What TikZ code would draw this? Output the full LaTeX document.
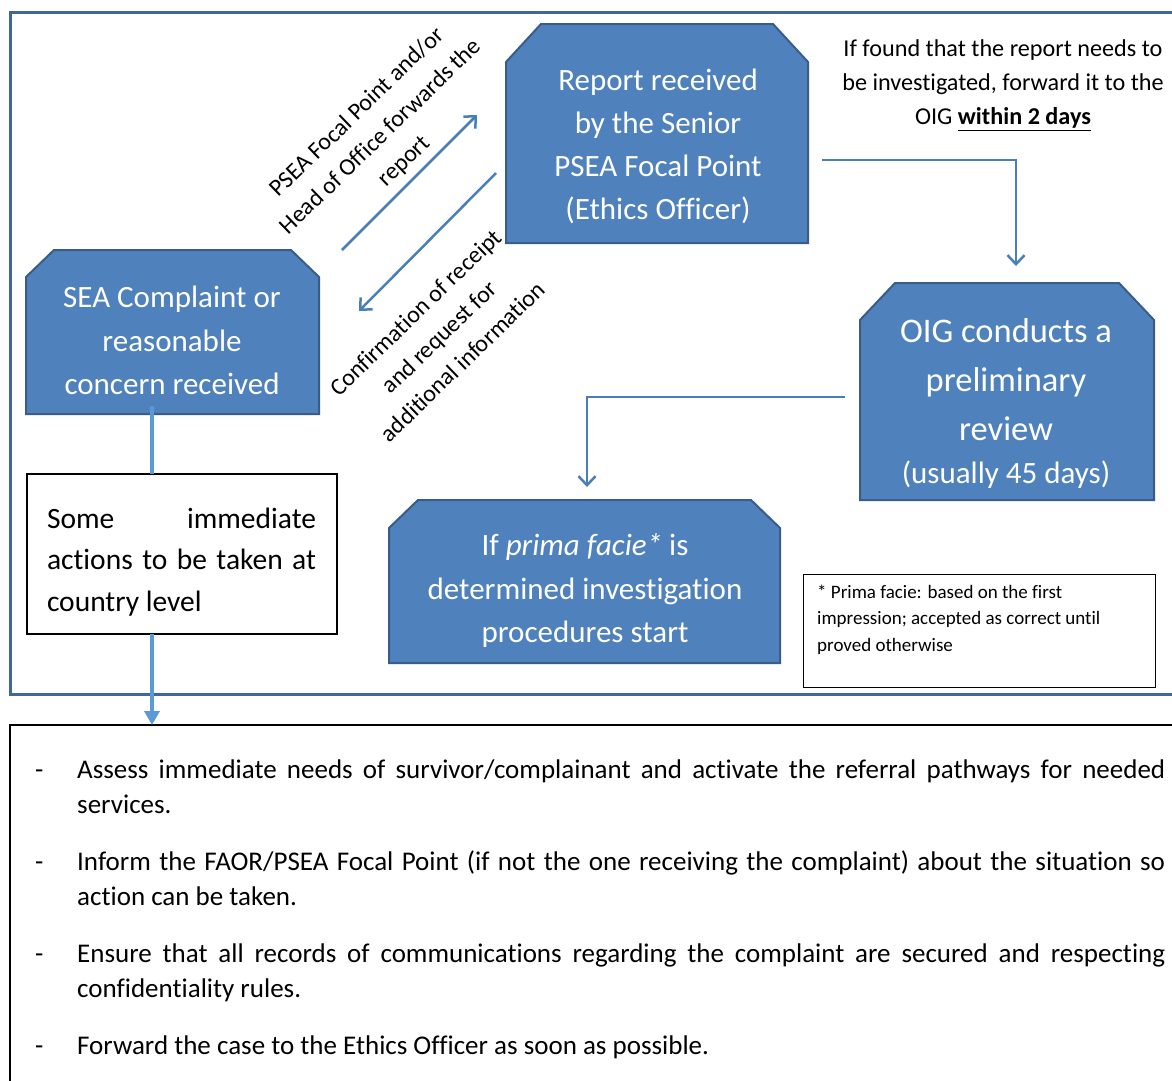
\documentclass[tikz,border=0pt]{standalone}
\usepackage{fontspec}
\setmainfont{Carlito}[Ligatures=CommonOff]
\usetikzlibrary{arrows.meta,calc}

\definecolor{boxfill}{HTML}{4F81BD}
\definecolor{boxline}{HTML}{385D8A}
\definecolor{frameblue}{HTML}{41679A}
\definecolor{arrblue}{HTML}{4A7EBB}
\definecolor{lightblue}{HTML}{5B9BD5}

\newcommand\fs[2]{\fontsize{#1}{#2}\selectfont}
\newcommand\chbox[7]{%
  \node[area,minimum width=#4pt,minimum height=#5pt] (#1) at (#2,#3) {};
  \draw[cbox] ([yshift=-#7pt]#1.north west) -- ([xshift=#6pt]#1.north west)
    -- ([xshift=-#6pt]#1.north east) -- ([yshift=-#7pt]#1.north east)
    -- (#1.south east) -- (#1.south west) -- cycle;}
\newcommand\actitem{\par\hangindent=42pt\hangafter=1\noindent\makebox[42pt][l]{-}}

\begin{document}
\begin{tikzpicture}[x=1pt,y=-1pt,
  area/.style={inner sep=0pt,outer sep=0pt,rectangle},
  cbox/.style={fill=boxfill,draw=boxline,line width=2pt,line join=miter},
  boxtext/.style={text=white,align=center,inner sep=0pt},
  conn/.style={draw=arrblue,line width=2.5pt,-{Straight Barb[length=9pt,width=17pt]}},
  lconn/.style={draw=lightblue,line width=3.5pt},
  lbl/.style={align=center,inner sep=0pt,rotate=44,font=\fs{24}{34}},
  plainbox/.style={area,draw=black,line width=1.2pt}]
\useasboundingbox (0,0) rectangle (1172,1080);
\fill[white] (0,0) rectangle (1172,1080);
\clip (0,0) rectangle (1172,1080);

% outer frame
\draw[frameblue,line width=3pt] (10.5,12) rectangle (1200,694);

% chamfered boxes
\chbox{sea}{172.5}{332}{293}{164}{28}{27}
\chbox{rep}{657}{133.5}{302}{219}{35}{38}
\chbox{oig}{1007}{391.5}{294}{217}{35}{37}
\chbox{pf}{584.5}{581.5}{391}{163}{29}{28}

\node[boxtext,font=\fs{31}{43.5}] (seat) at (172,340.5) {SEA Complaint or\\reasonable\\concern received};
\node[boxtext,font=\fs{31}{43}] (rept) at (658,146) {Report received\\by the Senior\\PSEA Focal Point\\(Ethics Officer)};
\node[boxtext,font=\fs{34.5}{49}] (oigt) at (1006,380) {OIG conducts a\\preliminary\\review};
\node[boxtext,font=\fs{31}{43}] (oigd) at (1006,475) {(usually 45 days)};
\node[boxtext,font=\fs{31}{43.5}] (pft) at (585,590.5) {If \textit{prima facie*} is\\determined investigation\\procedures start};

% note text
\node[align=center,inner sep=0pt,font=\fs{24.2}{34}] (note) at (1003,85) {If found that the report needs to\\be investigated, forward it to the\\OIG \textbf{\underline{within 2 days}}};

% immediate actions box
\node[plainbox,minimum width=310pt,minimum height=160pt] (some) at (182,554) {};
\node[inner sep=0pt,text width=269pt,align=justify,font={\fs{29.5}{41.5}\hyphenpenalty=10000\tolerance=9999}] (somet) at (181.5,562) {Some immediate actions to be taken at country level};

% footnote box
\node[plainbox,line width=1pt,minimum width=352pt,minimum height=113pt,anchor=north west] (fn) at (803,574) {};
\node[anchor=north west,inner sep=0pt,align=left,font=\fs{19}{26.5}] (fnt) at (817,584.5) {* Prima facie: based on the first\\impression; accepted as correct until\\proved otherwise};

% bottom actions box
\node[plainbox,minimum width=1300pt,minimum height=400pt,anchor=north west] (act) at (10,725) {};
\node[anchor=north west,inner sep=0pt,text width=1130pt,align=justify,font={\fs{27}{35}\hyphenpenalty=10000\tolerance=9999\setlength{\parskip}{22pt}}] (actt) at (35,721) {%
\actitem Assess immediate needs of survivor/complainant and activate the referral pathways for needed services.
\actitem Inform the FAOR/PSEA Focal Point (if not the one receiving the complaint) about the situation so action can be taken.
\actitem Ensure that all records of communications regarding the complaint are secured and respecting confidentiality rules.
\actitem Forward the case to the Ethics Officer as soon as possible.\par};

% diagonal labels
\node[lbl] (l1) at (381,137) {PSEA Focal Point and/or\\Head of Office forwards the\\report};
\node[lbl] (l2) at (439,337) {Confirmation of receipt\\and request for\\additional information};

% connectors
\coordinate (c1) at (822,160);
\coordinate (c2) at (1016,266);
\draw[conn] (c1) -| (c2);
\coordinate (c3) at (845,397);
\coordinate (c4) at (587,487);
\draw[conn] (c3) -| (c4);
\coordinate (d1) at (342,250);
\coordinate (d2) at (477,115);
\coordinate (d3) at (496,173);
\coordinate (d4) at (359,311);
\draw[conn] (d1) -- (d2);
\draw[conn] (d3) -- (d4);

\coordinate (v) at (152,406);
\draw[lconn] (v) -- (v |- some.north);
\draw[lconn,-{Triangle[length=14pt,width=15pt]}] (v |- some.south) -- (v |- act.north);
\end{tikzpicture}
\end{document}
